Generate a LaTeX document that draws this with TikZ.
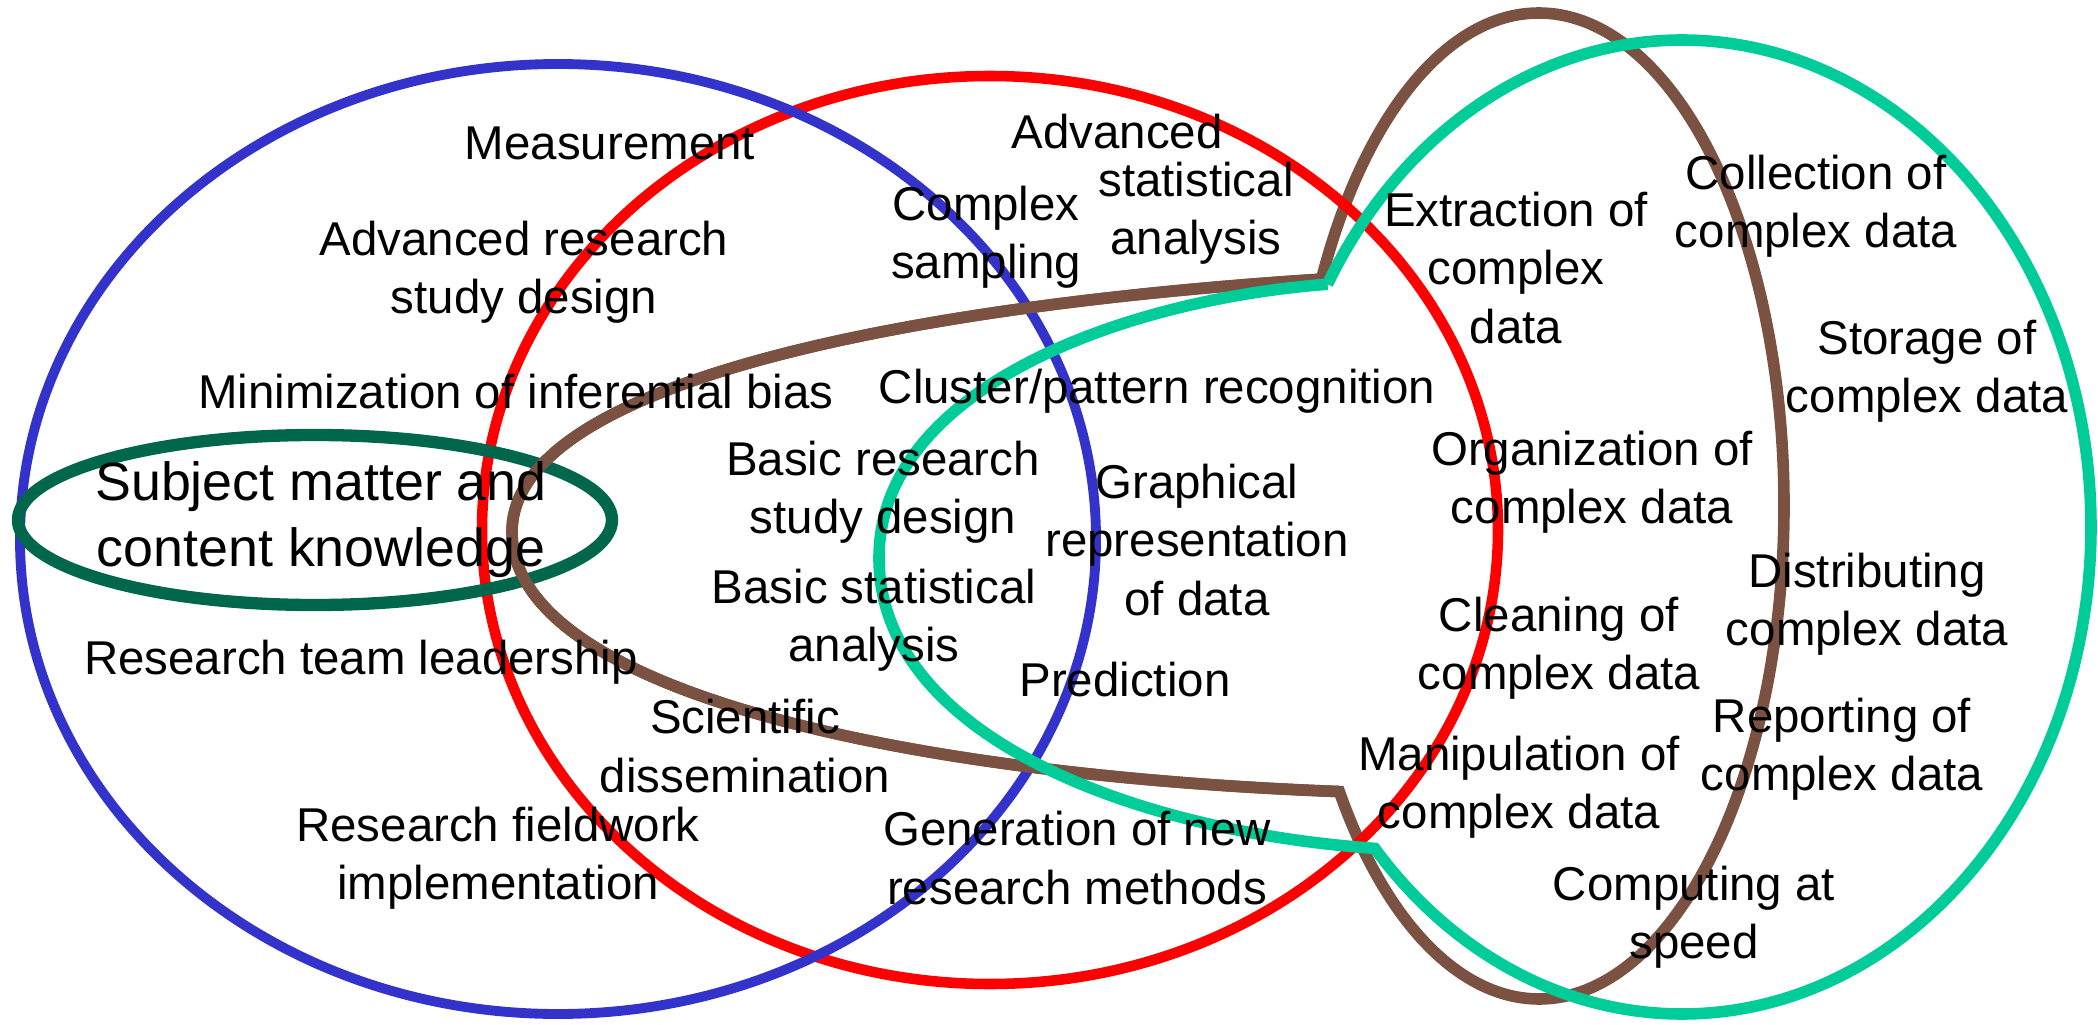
\documentclass[tikz,border=0pt]{standalone}
\usepackage{fontspec}
\setmainfont{Liberation Sans}
\usepackage{tikz}
\usetikzlibrary{calc}
\definecolor{vblue}{RGB}{51,51,204}
\definecolor{vred}{RGB}{255,0,0}
\definecolor{vgreen}{RGB}{0,102,76}
\definecolor{vbrown}{RGB}{123,81,66}
\definecolor{vteal}{RGB}{0,204,153}
\tikzset{
	skill/.style={align=center, inner sep=0pt, font=\fontsize{13.5}{16.6}\selectfont}, % plain labels
	bigskill/.style={skill, font=\fontsize{15.3}{18.8}\selectfont},
	blueline/.style={draw=vblue, line width=2.8pt},
	redline/.style={draw=vred, line width=3pt},
	greenline/.style={draw=vgreen, line width=3.5pt},
	brownline/.style={draw=vbrown, line width=3.3pt},
	tealline/.style={draw=vteal, line width=3.3pt},
}

\begin{document}
\begin{tikzpicture}
	\useasboundingbox (0,0) rectangle (20.98,-10.25);

	\coordinate (BrownC) at (15.39,-5.06);
	\coordinate (TealC) at (16.82,-5.27);
	\coordinate (BrownTop) at ($(BrownC)+(152.6:2.45 and 4.93)$);
	\coordinate (BrownLow) at ($(BrownC)+(215.4:2.45 and 4.93)$);
	\coordinate (BrownTip) at (5.12,-5.32);
	\coordinate (TealTop) at ($(TealC)+(150.1:4.09 and 4.87)$);
	\coordinate (TealLow) at ($(TealC)+(221.3:4.09 and 4.87)$);
	\coordinate (TealTip) at (8.79,-5.58);

	% brown outline first, red and blue run over its right half
	\draw[brownline] (BrownTop) .. controls (9.2,-3.05) and (5.12,-3.8) .. (BrownTip)
		.. controls (5.12,-6.9) and (9.0,-7.75) .. (BrownLow)
		arc[start angle=215.4, end angle=512.6, x radius=2.45, y radius=4.93] -- cycle;
	\draw[redline] (9.90,-5.30) ellipse [x radius=5.08, y radius=4.54];
	\draw[blueline] (5.58,-5.39) ellipse [x radius=5.38, y radius=4.75];
	\draw[greenline] (3.15,-5.20) ellipse [x radius=2.97, y radius=0.85];
	% left lobe of the brown shape lies on top
	\draw[brownline] (BrownTop) .. controls (9.2,-3.05) and (5.12,-3.8) .. (BrownTip)
		.. controls (5.12,-6.9) and (9.0,-7.75) .. (BrownLow);
	\draw[tealline] (TealTop) .. controls (11.2,-3.0) and (8.79,-3.9) .. (TealTip)
		.. controls (8.79,-7.3) and (11.2,-8.3) .. (TealLow)
		arc[start angle=221.3, end angle=510.1, x radius=4.09, y radius=4.87] -- cycle;

	% blue: research
	\node[skill] (Measure) at (6.10,-1.43) {Measurement};
	\node[skill] (AdvDesign) at (5.24,-2.72) {Advanced research\\study design};
	\node[skill] (Bias) at (5.16,-3.92) {Minimization of inferential bias};
	\node[bigskill] (Subject) at (3.21,-5.20) {Subject matter and\\content knowledge};
	\node[skill] (Lead) at (3.61,-6.62) {Research team leadership};
	\node[skill] (Field) at (4.98,-8.58) {Research fieldwork\\implementation};
	\node[skill] (Dissem) at (7.45,-7.46) {Scientific\\dissemination};
	\node[skill] (BasDesign) at (8.83,-4.92) {Basic research\\study design};
	\node[skill] (BasStat) at (8.74,-6.20) {Basic statistical\\analysis};
	\node[skill] (Sampling) at (9.86,-2.37) {Complex\\sampling};
	% red: statistics
	\node[skill] (AdvWord) at (11.17,-1.32) {Advanced};
	\node[skill] (AdvStat) at (11.96,-2.13) {statistical\\analysis};
	\node[skill] (Cluster) at (11.57,-3.91) {Cluster/pattern recognition};
	\node[skill] (Graph) at (11.97,-5.40) {Graphical\\representation\\of data};
	\node[skill] (Predict) at (11.25,-6.80) {Prediction};
	\node[skill] (NewMeth) at (10.77,-8.58) {Generation of new\\research methods};
	% teal: data
	\node[skill] (Extract) at (15.16,-2.68) {Extraction of\\complex\\data};
	\node[skill] (Collect) at (18.16,-2.06) {Collection of\\complex data};
	\node[skill] (Store) at (19.27,-3.71) {Storage of\\complex data};
	\node[skill] (Organize) at (15.92,-4.82) {Organization of\\complex data};
	\node[skill] (Distrib) at (18.67,-6.04) {Distributing\\complex data};
	\node[skill] (Clean) at (15.59,-6.48) {Cleaning of\\complex data};
	\node[skill] (Report) at (18.42,-7.49) {Reporting of\\complex data};
	\node[skill] (Manip) at (15.19,-7.87) {Manipulation of\\complex data};
	\node[skill] (Speed) at (16.94,-9.17) {Computing at\\speed};
\end{tikzpicture}
\end{document}
